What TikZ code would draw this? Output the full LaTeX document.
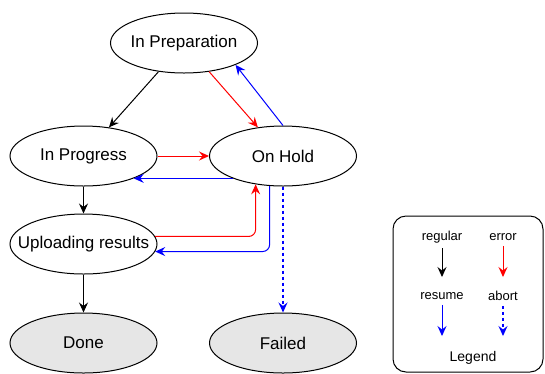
\documentclass[tikz,border=0pt]{standalone}
\usepackage{fontspec}
\setmainfont{Liberation Sans}
\usetikzlibrary{arrows.meta,shapes.geometric}
\definecolor{errorred}{RGB}{255,0,0}
\definecolor{resumeblue}{RGB}{0,0,255}
\definecolor{donegray}{RGB}{230,230,230}

\begin{document}
\begin{tikzpicture}[x=1pt,y=-1pt,
      state/.style={ellipse,draw,line width=1pt,inner xsep=-15pt,inner ysep=0pt,
                    minimum width=147pt,minimum height=60pt,
                    font=\fontsize{17}{20}\selectfont},
      final/.style={state,fill=donegray},
      regarrow/.style={draw,color=black,line width=1pt,rounded corners=7pt,
                       -{Stealth[length=10pt,width=9pt,inset=3.5pt]}},
      errarrow/.style={regarrow,color=errorred},
      resarrow/.style={regarrow,color=resumeblue},
      abtarrow/.style={resarrow,line width=1.2pt,dash pattern=on 3pt off 3pt},
      lbl/.style={inner sep=1pt,font=\fontsize{13}{15}\selectfont}]

    \useasboundingbox (0,0) rectangle (545,373);

    \node[state] (prep) at (184,43) {In Preparation};
    \node[state] (prog) at (83.5,156) {In Progress};
    \node[state] (hold) at (283,156) {On Hold};
    \node[state] (upl) at (83.5,244) {Uploading results};
    \node[final] (done) at (83.5,343) {Done};
    \node[final] (failed) at (283,343) {Failed};

    \draw[regarrow] (prep) -- (prog);
    \draw[errarrow] (prep) -- (hold);
    \draw[resarrow] (hold.north) -- (prep.337);
    \draw[errarrow] (prog.east) -- (hold.west);
    \draw[resarrow] (hold.204) -- (prog.336);
    \draw[regarrow] (prog.south) -- (upl.north);
    \draw[errarrow] (upl.6) -| (hold.226);
    \draw[resarrow] (hold.246) |- (upl.354);
    \draw[abtarrow] (hold.south) -- (failed.north);
    \draw[regarrow] (upl.south) -- (done.north);

    \node[draw,line width=1pt,rounded corners=13pt,minimum width=150pt,
          minimum height=156pt] (legend) at (468,294) {};
    \node[lbl] (lreg) at (442,237) {regular};
    \node[lbl] (lerr) at (503,237) {error};
    \node[lbl] (lres) at (442,296) {resume};
    \node[lbl] (labt) at (503,296) {abort};
    \node[font=\fontsize{14}{16}\selectfont] (ltitle) at (473,358) {Legend};

    \coordinate (lregend) at (442,277);
    \coordinate (lerrend) at (503,277);
    \coordinate (lresend) at (442,336);
    \coordinate (labtend) at (503,336);
    \draw[regarrow] ([yshift=-4pt]lreg.south) -- (lregend);
    \draw[errarrow] ([yshift=-4pt]lerr.south -| lerrend) -- (lerrend);
    \draw[resarrow] ([yshift=-4pt]lres.south) -- (lresend);
    \draw[abtarrow] ([yshift=-4pt]labt.south) -- (labtend);
  \end{tikzpicture}
\end{document}
